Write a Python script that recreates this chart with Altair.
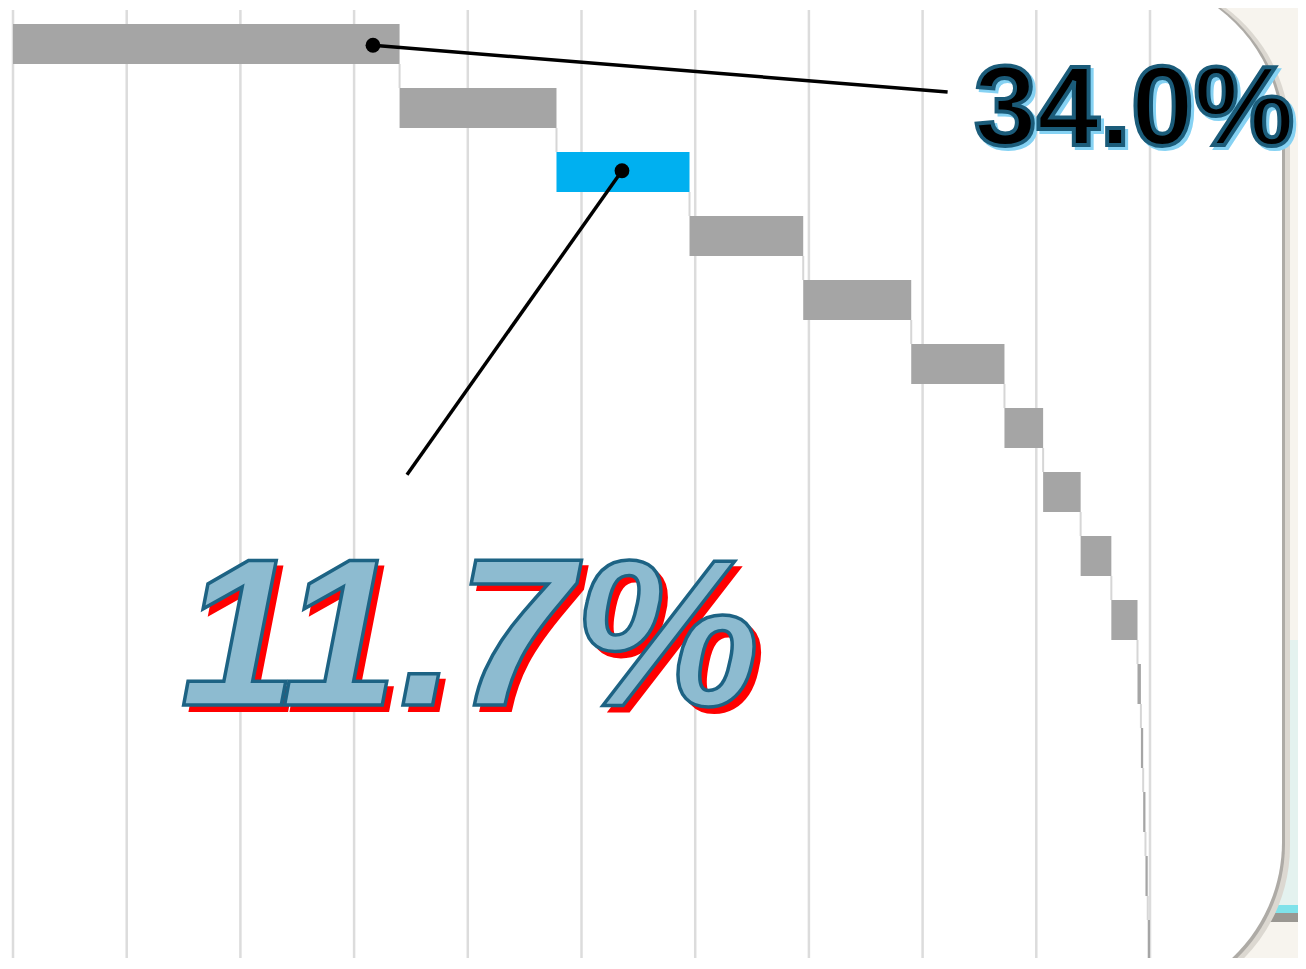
import altair as alt
import pandas as pd

# ---- data ----
categories = [f"Item {i}" for i in range(1, 16)]
values = [34.0, 13.8, 11.7, 10.0, 9.5, 8.2, 3.4, 3.3, 2.7, 2.3, 0.3, 0.2, 0.2, 0.2, 0.2]
highlight = "Item 3"
grid_ticks = [0, 10, 20, 30, 40, 50, 60, 70, 80, 90, 100]

label_big = "34.0%"
label_hl = "11.7%"

# ---- derived tables ----
rows = []
cum = 0.0
for i, (c, v) in enumerate(zip(categories, values)):
    rows.append({"cat": c, "row": i, "start": cum, "end": cum + v,
                 "y0": i - 0.3125, "y1": i + 0.3125,
                 "kind": "hl" if c == highlight else "base"})
    cum += v
bars = pd.DataFrame(rows)

conn = pd.DataFrame([{"x": r["end"], "y0": r["row"] + 0.3125, "y1": r["row"] + 1 - 0.3125}
                     for r in rows[:-1]])
grid = pd.DataFrame({"t": grid_ticks})

W, H = 1137, 946
xs = alt.Scale(domain=[0, 100], nice=False, zero=False)
ys = alt.Scale(domain=[-0.5, -0.5 + H / 64], reverse=True, nice=False, zero=False)

one = pd.DataFrame({"a": [0]})

# background panel (decoration)
teal = alt.Chart(one).mark_rect(color="#e4f2ef").encode(
    x=alt.value(1255), x2=alt.value(1310), y=alt.value(628), y2=alt.value(900))
cyan = alt.Chart(one).mark_rect(color="#7fe2ea").encode(
    x=alt.value(1255), x2=alt.value(1310), y=alt.value(893), y2=alt.value(901))
dark = alt.Chart(one).mark_rect(color="#9a9792").encode(
    x=alt.value(1255), x2=alt.value(1310), y=alt.value(901), y2=alt.value(910))
shadow2 = alt.Chart(one).mark_rect(color="#dcd8d1", cornerRadius=160).encode(
    x=alt.value(-500), x2=alt.value(1277), y=alt.value(-36), y2=alt.value(994))
shadow1 = alt.Chart(one).mark_rect(color="#aeaba6", cornerRadius=160).encode(
    x=alt.value(-500), x2=alt.value(1272), y=alt.value(-36), y2=alt.value(992))
panel = alt.Chart(one).mark_rect(color="#ffffff", cornerRadius=160).encode(
    x=alt.value(-500), x2=alt.value(1269), y=alt.value(-36), y2=alt.value(990))

gridlines = alt.Chart(grid).mark_rule(color="#dcdcdc", strokeWidth=2.5).encode(
    x=alt.X("t:Q", scale=xs, axis=None),
    y=alt.value(-2), y2=alt.value(H + 10))

connectors = alt.Chart(conn).mark_rule(color="#d6d6d6", strokeWidth=2).encode(
    x=alt.X("x:Q", scale=xs, axis=None),
    y=alt.Y("y0:Q", scale=ys, axis=None), y2="y1:Q")

barl = alt.Chart(bars).mark_rect().encode(
    x=alt.X("start:Q", scale=xs, axis=None), x2="end:Q",
    y=alt.Y("y0:Q", scale=ys, axis=None), y2="y1:Q",
    color=alt.Color("kind:N", scale=alt.Scale(domain=["base", "hl"], range=["#a5a5a5", "#00b0f0"]),
                    legend=None))

# annotation leader lines
lead = pd.DataFrame({
    "g": ["a", "a", "b", "b"],
    "o": [0, 1, 0, 1],
    "x": [31.66, 82.2, 53.56, 34.65],
    "y": [0.02, 0.75, 1.98, 6.73],
})
lines = alt.Chart(lead).mark_line(color="#000000", strokeWidth=3.5).encode(
    x=alt.X("x:Q", scale=xs, axis=None), y=alt.Y("y:Q", scale=ys, axis=None),
    detail="g:N", order="o:Q")
dots = alt.Chart(lead[lead.o == 0]).mark_point(filled=True, color="#000000", size=220, opacity=1).encode(
    x=alt.X("x:Q", scale=xs, axis=None), y=alt.Y("y:Q", scale=ys, axis=None))

t1 = pd.DataFrame({"x": [98.6], "y": [1.58], "label": [label_big]})
t2 = pd.DataFrame({"x": [40.2], "y": [10.33], "label": [label_hl]})
font = "Liberation Sans, Arial, sans-serif"

def txt(df, **kw):
    return alt.Chart(df).mark_text(align="center", baseline="alphabetic", font=font, **kw).encode(
        x=alt.X("x:Q", scale=xs, axis=None), y=alt.Y("y:Q", scale=ys, axis=None), text="label:N")

t1s = txt(t1, fontSize=113, fontWeight="bold", fill="#86d2f3", stroke="#86d2f3", strokeWidth=4, dx=3, dy=3)
t1m = txt(t1, fontSize=113, fontWeight="bold", fill="#000000", stroke="#1b5c7a", strokeWidth=4)
t2s = txt(t2, fontSize=210, fontWeight="bold", fontStyle="italic", fill="#ff0000", stroke="#ff0000", strokeWidth=2, dx=6, dy=6)
t2m = txt(t2, fontSize=210, fontWeight="bold", fontStyle="italic", fill="#8dbbd0", stroke="#1d6384", strokeWidth=3.5)

chart = alt.layer(
    teal, cyan, dark, shadow2, shadow1, panel,
    gridlines, connectors, barl, lines, dots, t1s, t1m, t2s, t2m
).properties(
    width=W, height=H,
    autosize=alt.AutoSizeParams(type="none"),
    padding={"left": 5, "top": 4, "right": 148, "bottom": 0},
    background="#f7f4ee",
).configure_view(stroke=None)

chart.save("out.html", embed_options={"renderer": "svg", "actions": False})
